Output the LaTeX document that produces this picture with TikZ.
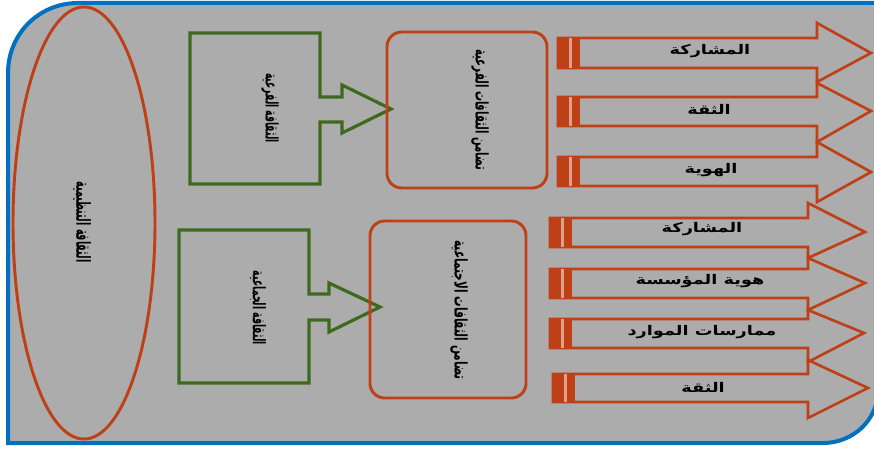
\documentclass[tikz,border=0pt]{standalone}
\usepackage{fontspec}
\newfontfamily\arabicfont[Script=Arabic]{DejaVu Sans}
\newfontfamily\arabicbold[Script=Arabic]{DejaVu Sans Bold}
\TeXXeTstate=1

\definecolor{panelgray}{RGB}{172,172,172}
\definecolor{frameblue}{RGB}{0,112,192}
\definecolor{rust}{RGB}{190,64,22}
\definecolor{leaf}{RGB}{62,106,30}
\definecolor{stripe}{RGB}{226,160,140}

\tikzset{
  panel/.style={fill=panelgray, draw=frameblue, line width=3pt},
  oval/.style={draw=rust, line width=2.2pt},
  callout/.style={draw=leaf, line width=2.4pt, line join=miter},
  roundbox/.style={draw=rust, line width=2.2pt, rounded corners=11pt},
  bar/.style={draw=rust, fill=panelgray, line width=2pt, line join=miter},
  vlabel/.style={rotate=-90, font=\arabicbold\fontsize{9}{10}\selectfont, inner sep=0pt},
  hlabel/.style={font=\arabicbold\fontsize{10}{12}\selectfont, inner sep=0pt}
}

\begin{document}
\begin{tikzpicture}[x=0.75pt, y=-0.75pt]
\useasboundingbox (0,0) rectangle (874,449);
\fill[white] (0,0) rectangle (874,449);

% frame with rounded top-left and bottom-right corners
\path[panel] (8,443) -- (8,73) .. controls (8,34) and (39,3) .. (78,3)
  -- (878,3) -- (878,390) .. controls (878,420) and (853,443) .. (823,443)
  -- cycle;

% ellipse on the left
\draw[oval] (84,223) ellipse [x radius=71, y radius=216];
\node[vlabel, font=\arabicbold\fontsize{10}{12}\selectfont] (org) at (82,222)
  {\scalebox{0.72}[1.45]{\beginR الثقافة التنظيمية\endR}};

% green callout boxes
\draw[callout] (190,33) -- (320,33) -- (320,97) -- (342,97) -- (342,85) -- (391,109)
  -- (342,133) -- (342,122) -- (320,122) -- (320,184) -- (190,184) -- cycle;
\node[vlabel] (sub) at (270,108) {\scalebox{0.76}[1.45]{\beginR الثقافة الفرعية\endR}};

\draw[callout] (179,230) -- (309,230) -- (309,294) -- (329,294) -- (329,283) -- (380,307)
  -- (329,332) -- (329,320) -- (309,320) -- (309,383) -- (179,383) -- cycle;
\node[vlabel] (grp) at (258,308) {\scalebox{0.77}[1.45]{\beginR الثقافة الجماعية\endR}};

% rounded boxes
\draw[roundbox] (387,32) rectangle (547,188);
\node[vlabel] (solA) at (480,110) {\scalebox{0.84}[1.45]{\beginR تضامن الثقافات الفرعية\endR}};
\draw[roundbox] (370,221) rectangle (526,398);
\node[vlabel] (solB) at (459,310) {\scalebox{0.88}[1.45]{\beginR تضامن الثقافات الاجتماعية\endR}};

% block arrows: left, right end of body, tip x, body top, body bottom, head top, head bottom, tip y
\foreach \L/\R/\T/\bt/\bb/\ht/\hb/\ty in {
  558/817/871/38/68/23/82/53,
  558/817/871/97/126/83/142/111,
  558/817/871/157/186/142/202/172,
  550/808/865/218/247/203/258/232,
  550/808/865/269/298/258/310/283,
  550/808/864/319/348/310/362/333,
  553/808/868/374/402/360/418/388}{
  \draw[bar] (\L,\bt) -- (\R,\bt) -- (\R,\ht) -- (\T,\ty) -- (\R,\hb) -- (\R,\bb) -- (\L,\bb) -- cycle;
  \fill[rust] (\L-1,\bt-1) rectangle (\L+22,\bb+1);
  \fill[stripe] (\L+11,\bt) rectangle (\L+13.5,\bb);
}

\node[hlabel] (a1) at (710,51) {\scalebox{1.33}[1]{\beginR المشاركة\endR}};
\node[hlabel] (a2) at (709,109) {\scalebox{1.33}[1]{\beginR الثقة\endR}};
\node[hlabel] (a3) at (711,170) {\scalebox{1.33}[1]{\beginR الهوية\endR}};
\node[hlabel] (b1) at (702,229) {\scalebox{1.33}[1]{\beginR المشاركة\endR}};
\node[hlabel] (b2) at (700,281) {\scalebox{1.33}[1]{\beginR هوية المؤسسة\endR}};
\node[hlabel] (b3) at (702,332) {\scalebox{1.33}[1]{\beginR ممارسات الموارد\endR}};
\node[hlabel] (b4) at (703,387) {\scalebox{1.33}[1]{\beginR الثقة\endR}};
\end{tikzpicture}
\end{document}
